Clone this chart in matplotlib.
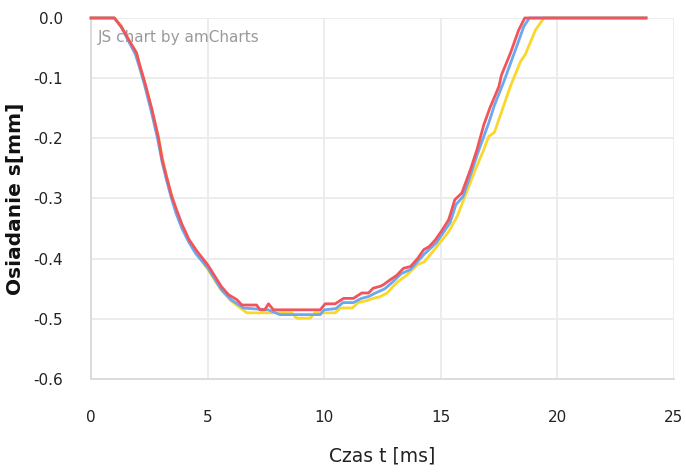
import matplotlib
matplotlib.use("Agg")
import matplotlib.pyplot as plt

# Osiadanie podkladu - trzy przebiegi
t_red = [0, 1.0, 1.3, 1.6, 1.95, 2.1, 2.3, 2.6, 2.88, 3.05, 3.24, 3.45, 3.67, 3.9, 4.2, 4.53,
         5.0, 5.6, 5.9, 6.25, 6.47, 7.1, 7.25, 7.45, 7.61, 7.82, 9.83, 10.04, 10.47, 10.83,
         11.25, 11.61, 11.9, 12.1, 12.4, 12.55, 12.83, 13.1, 13.4, 13.7, 14.0, 14.27, 14.5,
         14.76, 15.05, 15.34, 15.6, 15.9, 16.1, 16.27, 16.55, 16.84, 17.1, 17.49, 17.6, 17.98,
         18.34, 18.6, 23.8]
s_red = [0, 0, -0.015, -0.035, -0.058, -0.08, -0.106, -0.15, -0.197, -0.235, -0.264, -0.295,
         -0.319, -0.343, -0.368, -0.387, -0.41, -0.447, -0.46, -0.468, -0.477, -0.477, -0.485,
         -0.485, -0.475, -0.485, -0.485, -0.475, -0.475, -0.466, -0.466, -0.457, -0.457, -0.449,
         -0.446, -0.443, -0.435, -0.428, -0.416, -0.413, -0.4, -0.385, -0.38, -0.369, -0.353,
         -0.335, -0.302, -0.291, -0.27, -0.252, -0.219, -0.178, -0.15, -0.114, -0.095, -0.059,
         -0.02, 0, 0]

t_blue = [0, 1.0, 1.3, 1.6, 1.9, 2.1, 2.3, 2.6, 2.85, 3.05, 3.24, 3.45, 3.65, 3.9, 4.2, 4.5,
          5.0, 5.6, 6.0, 6.54, 7.6, 8.1, 9.83, 10.0, 10.5, 10.8, 11.25, 11.6, 11.9, 12.2, 12.6,
          12.9, 13.3, 13.7, 14.0, 14.3, 14.8, 15.05, 15.4, 15.65, 15.95, 16.3, 16.58, 17.05,
          17.3, 17.7, 18.2, 18.56, 18.8, 23.8]
s_blue = [0, 0, -0.015, -0.038, -0.06, -0.085, -0.112, -0.158, -0.2, -0.24, -0.27, -0.3,
          -0.325, -0.35, -0.373, -0.392, -0.415, -0.452, -0.468, -0.482, -0.485, -0.493, -0.493,
          -0.485, -0.483, -0.473, -0.473, -0.466, -0.463, -0.457, -0.45, -0.44, -0.425, -0.418,
          -0.405, -0.392, -0.374, -0.36, -0.34, -0.31, -0.297, -0.258, -0.225, -0.175, -0.145,
          -0.106, -0.053, -0.014, 0, 0]

t_yellow = [0, 1.0, 1.3, 1.6, 1.95, 2.1, 2.3, 2.6, 2.9, 3.1, 3.28, 3.5, 3.7, 3.95, 4.25, 4.55,
            5.0, 5.54, 6.0, 6.68, 8.6, 8.82, 9.4, 9.6, 10.47, 10.7, 11.2, 11.46, 11.8, 12.1,
            12.4, 12.7, 13.1, 13.55, 14.0, 14.3, 14.83, 15.34, 15.7, 15.98, 16.48, 16.84, 17.05,
            17.3, 17.98, 18.41, 18.63, 19.06, 19.42, 23.8]
s_yellow = [0, 0, -0.013, -0.035, -0.058, -0.08, -0.108, -0.152, -0.2, -0.24, -0.27, -0.3,
            -0.327, -0.352, -0.375, -0.393, -0.417, -0.45, -0.47, -0.49, -0.49, -0.499, -0.499,
            -0.49, -0.49, -0.482, -0.482, -0.473, -0.47, -0.466, -0.463, -0.457, -0.44, -0.427,
            -0.41, -0.405, -0.38, -0.355, -0.33, -0.302, -0.252, -0.219, -0.197, -0.19, -0.114,
            -0.073, -0.06, -0.02, 0, 0]

x_ticks = [0, 5, 10, 15, 20, 25]
y_ticks = [0.0, -0.1, -0.2, -0.3, -0.4, -0.5, -0.6]

fig = plt.figure(figsize=(6.86, 4.72), dpi=100)
ax = fig.add_axes([0.1327, 0.197, 0.8498, 0.7649])

ax.plot(t_yellow, s_yellow, color="#fcd72b", lw=2.0, clip_on=False, zorder=3)
ax.plot(t_blue, s_blue, color="#6aa8f0", lw=2.0, clip_on=False, zorder=4)
ax.plot(t_red, s_red, color="#f2545b", lw=2.0, clip_on=False, zorder=5)

ax.set_xlim(0, 25)
ax.set_ylim(-0.6, 0)
ax.set_xticks(x_ticks)
ax.set_yticks(y_ticks)
ax.set_yticklabels([f"{v:.1f}" for v in y_ticks])
ax.grid(True, color="#ebebeb", lw=1.3)
ax.set_axisbelow(True)
for side in ["top", "right"]:
    ax.spines[side].set_visible(False)
for side in ["left", "bottom"]:
    ax.spines[side].set_color("#dadada")
    ax.spines[side].set_linewidth(1.3)
ax.tick_params(length=0, labelsize=11, colors="#222222")
ax.tick_params(axis="x", pad=22)
ax.tick_params(axis="y", pad=20)

ax.set_xlabel("Czas t [ms]", fontsize=13.5, color="#222222", labelpad=16)
ax.set_ylabel("Osiadanie s[mm]", fontsize=14.5, fontweight="bold", color="#111111", labelpad=6)

ax.text(0.012, 0.945, "JS chart by amCharts", transform=ax.transAxes, fontsize=11,
        color="#9a9a9a", va="center", ha="left")

fig.savefig("out.png", dpi=100)
